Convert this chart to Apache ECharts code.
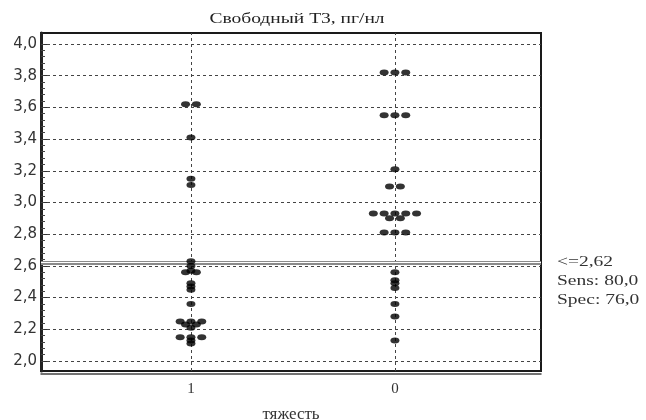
<!DOCTYPE html>
<html><head><meta charset="utf-8">
<script src="https://cdn.jsdelivr.net/npm/echarts@6/dist/echarts.min.js"></script>
<style>html,body{margin:0;padding:0;background:#fff}#c{width:646px;height:420px}</style>
</head><body><div id="c"></div>
<script>
const categories = ['1', '0'];
const group1Values = [3.62,3.62,3.41,3.15,3.11,2.63,2.60,2.57,2.56,2.56,2.49,2.47,2.45,2.36,2.25,2.25,2.25,2.23,2.23,2.21,2.15,2.15,2.15,2.13,2.11];
const group0Values = [3.82,3.82,3.82,3.55,3.55,3.55,3.21,3.10,3.10,2.93,2.93,2.93,2.93,2.93,2.90,2.90,2.81,2.81,2.81,2.56,2.51,2.49,2.46,2.36,2.28,2.13];
const yTicks = [2.0,2.2,2.4,2.6,2.8,3.0,3.2,3.4,3.6,3.8,4.0];
const cutoff = 2.62;
const annotation = ['<=2,62','Sens: 80,0','Spec: 76,0'];
const titleText = 'Свободный Т3, пг/нл';
const xTitle = 'тяжесть';

// beeswarm layout: equal values placed side by side symmetrically
function swarm(values, pos, step) {
  const counts = {};
  values.forEach(v => { counts[v] = (counts[v] || 0) + 1; });
  const seen = {};
  return values.map(v => {
    seen[v] = seen[v] === undefined ? 0 : seen[v] + 1;
    return [pos + (seen[v] - (counts[v] - 1) / 2) * step, v];
  });
}
const minorTicks = [];
for (let i = 0; i < yTicks.length - 1; i++) {
  const a = yTicks[i], b = yTicks[i + 1];
  for (let k = 1; k < 5; k++) minorTicks.push(+(a + (b - a) * k / 5).toFixed(3));
}
const fmt = v => v.toFixed(1).replace('.', ',');
const serif = 'Liberation Serif';
const step = 0.053;
const YMIN = 1.937, YMAX = 4.069;
const stretch = 1.3;

const chart = echarts.init(document.getElementById('c'));
chart.setOption({
  animation: false,
  backgroundColor: '#fff',
  grid: { left: 41, right: 105, top: 33, bottom: 49, show: true, borderColor: '#1a1a1a', borderWidth: 2, outerBoundsMode: 'none' },
  xAxis: { type: 'value', min: 0.265, max: 2.716, offset: 3,
    axisLine: { show: true, onZero: false, lineStyle: { color: '#444', width: 1.5 } },
    axisTick: { show: false }, splitLine: { show: false },
    axisLabel: { customValues: [1, 2], formatter: v => categories[Math.round(v) - 1], margin: 8,
      fontFamily: serif, fontSize: 15, color: '#333' },
    name: xTitle, nameLocation: 'middle', nameGap: 32,
    nameTextStyle: { fontFamily: serif, fontSize: 17, color: '#333' } },
  yAxis: [
    { type: 'value', min: YMIN, max: YMAX,
      axisLine: { show: true, lineStyle: { color: '#222', width: 3 } },
      axisTick: { show: true, inside: true, length: 7, customValues: yTicks, lineStyle: { color: '#333', width: 1 } },
      axisLabel: { customValues: yTicks, formatter: fmt, fontFamily: 'DejaVu Sans', fontSize: 15, color: '#333', margin: 4 },
      splitLine: { show: false } },
    { type: 'value', min: YMIN, max: YMAX, position: 'left',
      axisLine: { show: false },
      axisTick: { show: true, inside: true, length: 4, customValues: minorTicks, lineStyle: { color: '#444', width: 1 } },
      axisLabel: { show: false }, splitLine: { show: false } }
  ],
  graphic: [
    { type: 'text', x: 297, y: 19, scaleX: stretch,
      style: { text: titleText, fontFamily: serif, fontSize: 15, fill: '#222', align: 'center', verticalAlign: 'middle' } }
  ].concat(annotation.map((t, i) => ({ type: 'text', x: 557, y: 262 + i * 19, scaleX: stretch,
    style: { text: t, fontFamily: serif, fontSize: 15, fill: '#333', align: 'left', verticalAlign: 'middle' } }))),
  series: [
    { type: 'scatter', name: categories[0], data: swarm(group1Values, 1, step),
      symbol: 'circle', symbolSize: [9, 6], itemStyle: { color: '#000' }, z: 5,
      markLine: { silent: true, symbol: 'none', label: { show: false },
        lineStyle: { type: [3, 3], color: '#444', width: 1 },
        data: yTicks.map(v => ({ yAxis: v })).concat([{ xAxis: 1 }, { xAxis: 2 }]) } },
    { type: 'scatter', name: categories[1], data: swarm(group0Values, 2, step),
      symbol: 'circle', symbolSize: [9, 6], itemStyle: { color: '#000' }, z: 5,
      markLine: { silent: true, symbol: 'none', label: { show: false },
        data: [
          { yAxis: cutoff, lineStyle: { type: 'solid', color: '#8a8a8a', width: 4 } },
          { yAxis: cutoff, lineStyle: { type: 'solid', color: '#ffffff', width: 1.2 } }
        ] } }
  ]
});
</script></body></html>
